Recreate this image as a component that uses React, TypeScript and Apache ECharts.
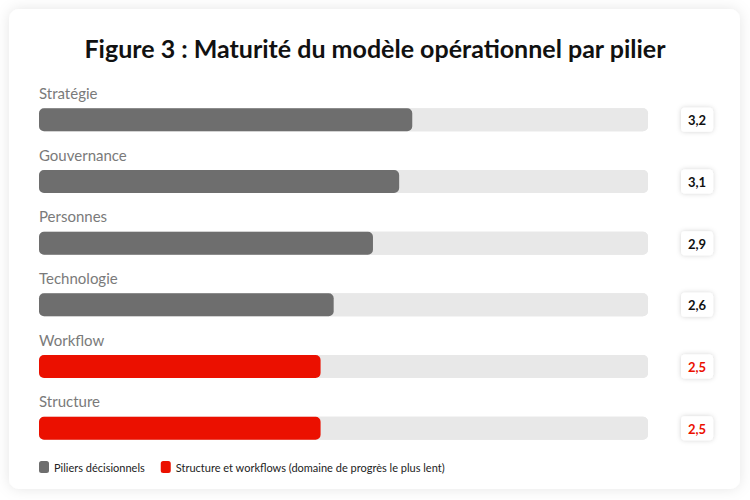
import React, { useEffect, useRef } from "react";
import * as echarts from "echarts";

const piliers = ["Stratégie", "Gouvernance", "Personnes", "Technologie", "Workflow", "Structure"];
const scores = [3.2, 3.1, 2.9, 2.6, 2.5, 2.5];
const scoreLabels = ["3,2", "3,1", "2,9", "2,6", "2,5", "2,5"];
// true = structure/workflow (red) group
const lentGroup = [false, false, false, false, true, true];
const legendNames = ["Piliers décisionnels", "Structure et workflows (domaine de progrès le plus lent)"];

const GRAY = "#6e6e6e";
const RED = "#eb1000";
const FONT = "Lato, 'Noto Sans', sans-serif";

const App = () => {
  const chartRef = useRef<HTMLDivElement>(null);

  useEffect(() => {
    if (!chartRef.current) return;
    const chart = echarts.init(chartRef.current, undefined, { renderer: "svg" });

    const box = {
      fontFamily: FONT,
      fontSize: 13,
      fontWeight: "bold" as const,
      backgroundColor: "#ffffff",
      borderRadius: 4,
      padding: [6, 7, 5, 7],
      shadowBlur: 5,
      shadowColor: "rgba(0,0,0,0.18)",
    };

    const barLabel = {
      show: true,
      position: [0, -23] as [number, number],
      formatter: "{b}",
      color: "#7a7a7a",
      fontSize: 15,
      fontFamily: FONT,
    };

    chart.setOption({
      animation: false,
      textStyle: { fontFamily: FONT },
      graphic: [
        {
          type: "rect",
          z: -10,
          shape: { x: 9, y: 9, width: 731, height: 480, r: 10 },
          style: { fill: "#ffffff", shadowBlur: 14, shadowColor: "rgba(0,0,0,0.10)" },
        },
      ],
      title: {
        text: "Figure 3 : Maturité du modèle opérationnel par pilier",
        left: "center",
        top: 30,
        textStyle: { fontSize: 25, fontWeight: "bold", color: "#111111", fontFamily: FONT },
      },
      legend: {
        left: 34,
        top: 456,
        icon: "roundRect",
        itemWidth: 10,
        itemHeight: 12,
        itemGap: 16,
        textStyle: { fontSize: 11, color: "#222222", fontFamily: FONT },
        data: legendNames,
      },
      grid: { left: 39, right: 102, top: 89, height: 370 },
      xAxis: { type: "value", min: 0.35, max: 5, show: false },
      yAxis: [
        {
          type: "category",
          inverse: true,
          data: piliers,
          axisLine: { show: false },
          axisTick: { show: false },
          axisLabel: { show: false },
        },
        {
          type: "category",
          inverse: true,
          position: "right",
          data: scoreLabels,
          axisLine: { show: false },
          axisTick: { show: false },
          axisLabel: {
            margin: 33,
            align: "left",
            formatter: (v: string, i: number) => (lentGroup[i] ? `{r|${v}}` : `{k|${v}}`),
            rich: {
              k: { ...box, color: "#111111" },
              r: { ...box, color: RED },
            },
          },
        },
      ],
      series: [
        {
          name: legendNames[0],
          type: "bar",
          stack: "s",
          barWidth: 23,
          showBackground: true,
          backgroundStyle: { color: "#e8e8e8", borderRadius: 5 },
          itemStyle: { color: GRAY, borderRadius: 5 },
          label: barLabel,
          data: scores.map((v, i) => (lentGroup[i] ? "-" : v)),
        },
        {
          name: legendNames[1],
          type: "bar",
          stack: "s",
          barWidth: 23,
          showBackground: true,
          backgroundStyle: { color: "#e8e8e8", borderRadius: 5 },
          itemStyle: { color: RED, borderRadius: 5 },
          label: barLabel,
          data: scores.map((v, i) => (lentGroup[i] ? v : "-")),
        },
      ],
    });

    return () => {
      chart.dispose();
    };
  }, []);

  return (
    <div
      ref={chartRef}
      style={{ position: "absolute", left: 0, top: 0, width: 750, height: 500, background: "#ffffff" }}
    />
  );
};

export default App;
